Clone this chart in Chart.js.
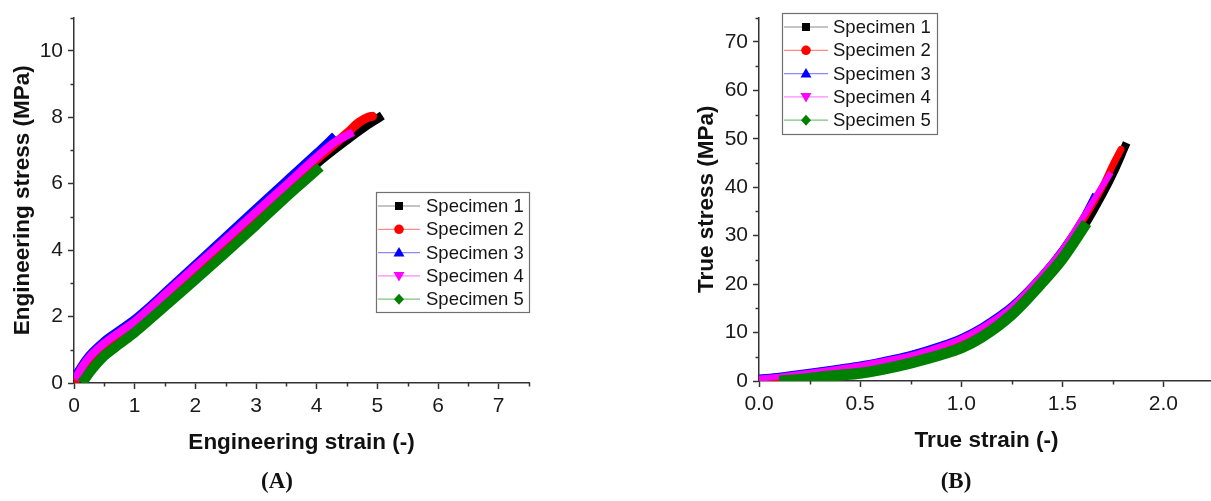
<!DOCTYPE html>
<html>
<head>
<meta charset="utf-8">
<title>Stress-strain curves</title>
<script src="https://cdn.jsdelivr.net/npm/chart.js@4.4.1/dist/chart.umd.min.js"></script>
<style>
  html, body { margin: 0; padding: 0; background: #fff; }
  body { width: 1211px; height: 501px; overflow: hidden; position: relative; }
  canvas { display: block; }
  #boxA { position: absolute; left: 0; top: 0; width: 560px; height: 470px; }
  #boxB { position: absolute; left: 680px; top: 0; width: 560px; height: 470px; }
  .caption { position: absolute; top: 468px; width: 60px; margin-left: -30px; text-align: center;
             font: bold 23px "Liberation Serif", "Times New Roman", serif; color: #111; }
</style>
</head>
<body>
<div id="boxA"><canvas id="chartA" width="560" height="470"></canvas></div>
<div id="boxB"><canvas id="chartB" width="560" height="470"></canvas></div>
<div class="caption" style="left:277px">(A)</div>
<div class="caption" style="left:956px">(B)</div>
<script>
// Specimens
const specimenNames = ['Specimen 1', 'Specimen 2', 'Specimen 3', 'Specimen 4', 'Specimen 5'];
const specimenColors = ['#000000', '#ff0000', '#0000ff', '#ff00ff', '#008000'];
const legendLineColors = ['#8a8a8a', '#ff8a8a', '#8a8aff', '#ff8aff', '#80c080'];
const markerStyles = ['rect', 'circle', 'triangle', 'triangleDown', 'diamond'];

// (A) engineering strain (-) / engineering stress (MPa)
const engStrain1 = [0.05, 0.15, 0.25, 0.4, 0.6, 0.8, 1.0, 1.25, 1.5, 2.0, 2.5, 3.0, 3.5, 4.0, 4.5, 4.8, 5.02];
const engStress1 = [0.0, 0.25, 0.5, 0.85, 1.15, 1.42, 1.7, 2.08, 2.47, 3.26, 4.06, 4.88, 5.72, 6.6, 7.32, 7.72, 7.98];
const engStrain2 = [0.02, 0.1, 0.2, 0.3, 0.5, 0.75, 1.0, 1.25, 1.5, 2.0, 2.5, 3.0, 3.5, 4.0, 4.3, 4.5, 4.7, 4.85, 4.92];
const engStress2 = [0.05, 0.35, 0.63, 0.85, 1.17, 1.5, 1.82, 2.22, 2.63, 3.44, 4.26, 5.08, 5.9, 6.73, 7.2, 7.52, 7.85, 8.0, 8.03];
const engStrain3 = [0.0, 0.1, 0.2, 0.3, 0.5, 0.75, 1.0, 1.25, 1.5, 2.0, 2.5, 3.0, 3.5, 4.0, 4.3];
const engStress3 = [0.15, 0.45, 0.72, 0.93, 1.27, 1.6, 1.93, 2.32, 2.74, 3.58, 4.42, 5.26, 6.1, 6.93, 7.45];
const engStrain4 = [0.02, 0.1, 0.2, 0.3, 0.5, 0.75, 1.0, 1.25, 1.5, 2.0, 2.5, 3.0, 3.5, 4.0, 4.3, 4.6];
const engStress4 = [0.1, 0.38, 0.66, 0.87, 1.2, 1.53, 1.85, 2.25, 2.67, 3.5, 4.32, 5.15, 5.97, 6.8, 7.25, 7.55];
const engStrain5 = [0.12, 0.18, 0.25, 0.35, 0.5, 0.75, 1.0, 1.25, 1.5, 2.0, 2.5, 3.0, 3.5, 4.06];
const engStress5 = [0.0, 0.12, 0.3, 0.53, 0.82, 1.17, 1.52, 1.91, 2.31, 3.11, 3.92, 4.75, 5.6, 6.5];

// (B) true strain (-) / true stress (MPa)
const trueStrain1 = [0.05, 0.15, 0.25, 0.4, 0.5, 0.6, 0.75, 0.9, 1.0, 1.1, 1.25, 1.4, 1.5, 1.6, 1.7, 1.76, 1.81];
const trueStress1 = [0.0, 0.3, 0.7, 1.3, 1.9, 2.6, 3.8, 5.5, 7.0, 9.2, 13.8, 20.2, 25.0, 31.3, 38.6, 43.6, 48.4];
const trueStrain2 = [0.02, 0.1, 0.25, 0.4, 0.5, 0.6, 0.75, 0.9, 1.0, 1.1, 1.25, 1.4, 1.5, 1.6, 1.7, 1.75, 1.79];
const trueStress2 = [0.3, 0.7, 1.5, 2.4, 3.0, 3.7, 5.0, 6.8, 8.4, 10.6, 15.0, 21.5, 26.6, 33.0, 40.2, 44.6, 47.8];
const trueStrain3 = [0.0, 0.1, 0.25, 0.4, 0.5, 0.6, 0.75, 0.9, 1.0, 1.1, 1.25, 1.4, 1.5, 1.6, 1.66];
const trueStress3 = [0.8, 1.2, 2.0, 2.9, 3.5, 4.3, 5.7, 7.6, 9.2, 11.4, 15.8, 22.2, 27.4, 33.8, 38.6];
const trueStrain4 = [0.0, 0.1, 0.25, 0.4, 0.5, 0.6, 0.75, 0.9, 1.0, 1.1, 1.25, 1.4, 1.5, 1.6, 1.7, 1.74];
const trueStress4 = [0.5, 0.9, 1.7, 2.6, 3.2, 4.0, 5.3, 7.2, 8.8, 11.0, 15.4, 22.0, 27.1, 33.6, 40.4, 43.0];
const trueStrain5 = [0.1, 0.2, 0.3, 0.4, 0.5, 0.6, 0.75, 0.9, 1.0, 1.1, 1.25, 1.4, 1.5, 1.62];
const trueStress5 = [0.0, 0.3, 0.8, 1.2, 1.6, 2.3, 3.7, 5.4, 6.8, 9.0, 13.7, 20.3, 25.2, 32.6];

// Ticks
const engStrainTicks = [0, 1, 2, 3, 4, 5, 6, 7];
const engStrainMinor = [0.5, 1.5, 2.5, 3.5, 4.5, 5.5, 6.5, 7.5];
const engStressTicks = [0, 2, 4, 6, 8, 10];
const engStressMinor = [1, 3, 5, 7, 9, 11];
const trueStrainTicks = [0.0, 0.5, 1.0, 1.5, 2.0];
const trueStrainMinor = [0.25, 0.75, 1.25, 1.75, 2.25];
const trueStressTicks = [0, 10, 20, 30, 40, 50, 60, 70];
const trueStressMinor = [5, 15, 25, 35, 45, 55, 65, 75];

const tickFont = { family: '"Liberation Sans", Arial, sans-serif', size: 21 };
const titleFont = { family: '"Liberation Sans", Arial, sans-serif', size: 22.5, weight: 'bold' };
const legendFont = '18.5px "Liberation Sans", Arial, sans-serif';

function toPoints(xs, ys) {
    return xs.map((x, i) => ({ x: x, y: ys[i] }));
}

// a specimen dataset; black drawn first (at the back), green last
function makeDataset(i, xs, ys, width) {
    return {
        label: specimenNames[i],
        data: toPoints(xs, ys),
        borderColor: specimenColors[i],
        backgroundColor: specimenColors[i],
        borderWidth: width,
        borderCapStyle: i === 0 ? 'square' : (i === 1 ? 'round' : 'butt'),
        borderJoinStyle: 'round',
        pointRadius: 0,
        cubicInterpolationMode: 'monotone',
        order: 5 - i,
        clip: 0
    };
}

function drawMarker(ctx, style, x, y) {
    ctx.beginPath();
    if (style === 'rect') {
        ctx.rect(x - 4, y - 4, 8, 8);
    } else if (style === 'circle') {
        ctx.arc(x, y, 4.8, 0, Math.PI * 2);
    } else if (style === 'triangle') {
        ctx.moveTo(x, y - 5.5); ctx.lineTo(x + 5.5, y + 4); ctx.lineTo(x - 5.5, y + 4); ctx.closePath();
    } else if (style === 'triangleDown') {
        ctx.moveTo(x, y + 5.5); ctx.lineTo(x + 5.5, y - 4); ctx.lineTo(x - 5.5, y - 4); ctx.closePath();
    } else {
        ctx.moveTo(x, y - 5.5); ctx.lineTo(x + 5, y); ctx.lineTo(x, y + 5.5); ctx.lineTo(x - 5, y); ctx.closePath();
    }
    ctx.fill();
}

// Origin-style legend: thin line with marker in the middle
const specimenLegend = {
    id: 'specimenLegend',
    afterDraw(chart, args, o) {
        const ctx = chart.ctx;
        ctx.save();
        ctx.fillStyle = '#ffffff';
        ctx.fillRect(o.left, o.top, o.width, o.height);
        ctx.strokeStyle = '#707070';
        ctx.lineWidth = 1.2;
        ctx.strokeRect(o.left + 0.5, o.top + 0.5, o.width, o.height);
        chart.data.datasets.forEach((ds, i) => {
            const y = o.firstRow + i * o.rowStep;
            ctx.strokeStyle = legendLineColors[i];
            ctx.lineWidth = 1.2;
            ctx.beginPath();
            ctx.moveTo(o.lineStart, y);
            ctx.lineTo(o.lineEnd, y);
            ctx.stroke();
            ctx.fillStyle = specimenColors[i];
            drawMarker(ctx, markerStyles[i], (o.lineStart + o.lineEnd) / 2, y);
            ctx.fillStyle = '#151515';
            ctx.font = legendFont;
            ctx.textAlign = 'left';
            ctx.textBaseline = 'middle';
            ctx.fillText(ds.label, o.textX, y + 1);
        });
        ctx.restore();
    }
};

// small minor ticks between the labelled ones, pointing outwards
const minorTicks = {
    id: 'minorTicks',
    afterDraw(chart, args, o) {
        const ctx = chart.ctx;
        const xs = chart.scales.x, ys = chart.scales.y;
        ctx.save();
        ctx.strokeStyle = '#333';
        ctx.lineWidth = 1.5;
        o.x.forEach(v => {
            if (v > xs.max) return;
            const px = Math.round(xs.getPixelForValue(v)) + 0.5;
            ctx.beginPath();
            ctx.moveTo(px, xs.top);
            ctx.lineTo(px, xs.top + 3.5);
            ctx.stroke();
        });
        o.y.forEach(v => {
            if (v > ys.max) return;
            const py = Math.round(ys.getPixelForValue(v)) + 0.5;
            ctx.beginPath();
            ctx.moveTo(ys.right, py);
            ctx.lineTo(ys.right - 3.5, py);
            ctx.stroke();
        });
        ctx.restore();
    }
};

function makeAxis(horizontal, title, min, max, ticks, size, titlePad, fmt) {
    return {
        type: 'linear',
        position: horizontal ? 'bottom' : 'left',
        min: min,
        max: max,
        afterBuildTicks: s => { s.ticks = ticks.map(v => ({ value: v })); },
        afterFit: s => { if (horizontal) s.height = size; else s.width = size; },
        ticks: { font: tickFont, color: '#1a1a1a', padding: 5, maxRotation: 0, autoSkip: false, callback: fmt },
        grid: { drawOnChartArea: false, drawTicks: true, tickLength: 6, tickWidth: 1.5, color: '#333' },
        border: { display: true, color: '#333', width: 1.5 },
        title: { display: true, text: title, font: titleFont, color: '#111',
                 padding: horizontal ? { top: 0, bottom: titlePad } : { top: titlePad, bottom: 0 } }
    };
}

const ctxA = document.getElementById('chartA');
new Chart(ctxA, {
    type: 'line',
    data: {
        datasets: [
            makeDataset(0, engStrain1, engStress1, 9),
            makeDataset(1, engStrain2, engStress2, 9),
            makeDataset(2, engStrain3, engStress3, 8),
            makeDataset(3, engStrain4, engStress4, 8),
            makeDataset(4, engStrain5, engStress5, 10)
        ]
    },
    options: {
        responsive: false,
        animation: false,
        layout: { padding: { left: 0, right: 31, top: 17, bottom: 0 } },
        scales: {
            x: makeAxis(true, 'Engineering strain (-)', 0, 7.5, engStrainTicks, 87, 14, v => String(v)),
            y: makeAxis(false, 'Engineering stress (MPa)', 0, 11, engStressTicks, 74, 9, v => String(v))
        },
        plugins: {
            legend: { display: false },
            tooltip: { enabled: false },
            minorTicks: { x: engStrainMinor, y: engStressMinor },
            specimenLegend: { left: 376, top: 192, width: 153, height: 120,
                              firstRow: 206, rowStep: 23.3, lineStart: 378, lineEnd: 420, textX: 426 }
        }
    },
    plugins: [minorTicks, specimenLegend]
});

const ctxB = document.getElementById('chartB');
new Chart(ctxB, {
    type: 'line',
    data: {
        datasets: [
            makeDataset(0, trueStrain1, trueStress1, 8),
            makeDataset(1, trueStrain2, trueStress2, 7),
            makeDataset(2, trueStrain3, trueStress3, 5),
            makeDataset(3, trueStrain4, trueStress4, 6),
            makeDataset(4, trueStrain5, trueStress5, 11)
        ]
    },
    options: {
        responsive: false,
        animation: false,
        layout: { padding: { left: 0, right: 26, top: 13, bottom: 0 } },
        scales: {
            x: makeAxis(true, 'True strain (-)', 0, 2.25, trueStrainTicks, 89, 16, v => v.toFixed(1)),
            y: makeAxis(false, 'True stress (MPa)', 0, 75, trueStressTicks, 79, 13, v => String(v))
        },
        plugins: {
            legend: { display: false },
            tooltip: { enabled: false },
            minorTicks: { x: trueStrainMinor, y: trueStressMinor },
            specimenLegend: { left: 102, top: 13, width: 155, height: 121,
                              firstRow: 27, rowStep: 23.3, lineStart: 104, lineEnd: 148, textX: 153 }
        }
    },
    plugins: [minorTicks, specimenLegend]
});
</script>
</body>
</html>
